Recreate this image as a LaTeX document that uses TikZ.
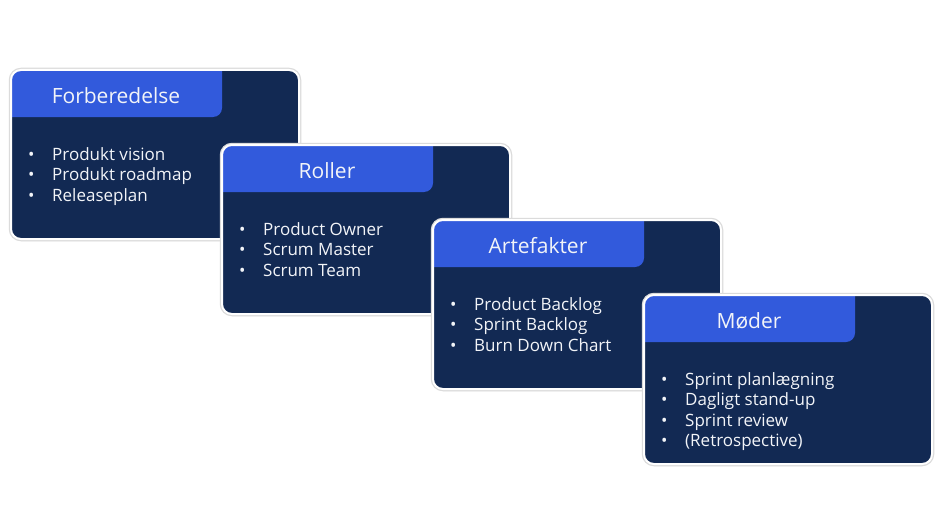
\documentclass[tikz,border=0pt]{standalone}
\usepackage{fontspec}
\setmainfont{Open Sans}
\usetikzlibrary{shadows}
\definecolor{navy}{HTML}{122953}
\definecolor{tabblue}{HTML}{325ADC}
\definecolor{paper}{HTML}{F2F4F8}
\begin{document}
\begin{tikzpicture}[x=1pt,y=-1pt,
  card/.style={fill=navy, draw=white, line width=2pt, rounded corners=10pt, outer sep=0pt,
    minimum width=288pt, minimum height=169pt, anchor=north west,
    drop shadow={shadow xshift=0pt, shadow yshift=-2pt, opacity=.25, fill=black!40},
    preaction={draw=black!14, line width=4.5pt},
    path picture={\fill[tabblue, rounded corners=9pt]
      ([shift={(-20,-20)}]path picture bounding box.north west) rectangle
      ([shift={(211,47)}]path picture bounding box.north west);}},
  title/.style={anchor=base, inner sep=0pt, text=paper, font=\fontsize{21}{25}\selectfont},
  items/.style={anchor=base west, inner sep=0pt, text=paper, font=\fontsize{17}{20.5}\selectfont}]
            \useasboundingbox[fill=white] (0,0) rectangle (940,527);
            % Forberedelse
            \node[card] (forb) at (11,70) {};
            \node[title] (forbtitle) at ([shift={(105,33)}]forb.north west) {Forberedelse};
            \node[items] (forbitems) at ([shift={(17,90)}]forb.north west)
              {\begin{tabular}[t]{@{}p{24pt}@{}l@{}}• & Produkt vision\\ • & Produkt roadmap\\ • & Releaseplan\end{tabular}};
            % Roller
            \node[card] (roller) at (222,145) {};
            \node[title] (rollertitle) at ([shift={(105,33)}]roller.north west) {Roller};
            \node[items] (rolleritems) at ([shift={(17,90)}]roller.north west)
              {\begin{tabular}[t]{@{}p{24pt}@{}l@{}}• & Product Owner\\ • & Scrum Master\\ • & Scrum Team\end{tabular}};
            % Artefakter
            \node[card] (arte) at (433,220) {};
            \node[title] (artetitle) at ([shift={(105,33)}]arte.north west) {Artefakter};
            \node[items] (arteitems) at ([shift={(17,90)}]arte.north west)
              {\begin{tabular}[t]{@{}p{24pt}@{}l@{}}• & Product Backlog\\ • & Sprint Backlog\\ • & Burn Down Chart\end{tabular}};
            % Møder
            \node[card] (moder) at (644,295) {};
            \node[title] (modertitle) at ([shift={(105,33)}]moder.north west) {Møder};
            \node[items] (moderitems) at ([shift={(17,90)}]moder.north west)
              {\begin{tabular}[t]{@{}p{24pt}@{}l@{}}• & Sprint planlægning\\ • & Dagligt stand-up\\ • & Sprint review\\ • & (Retrospective)\end{tabular}};
\end{tikzpicture}
\end{document}
